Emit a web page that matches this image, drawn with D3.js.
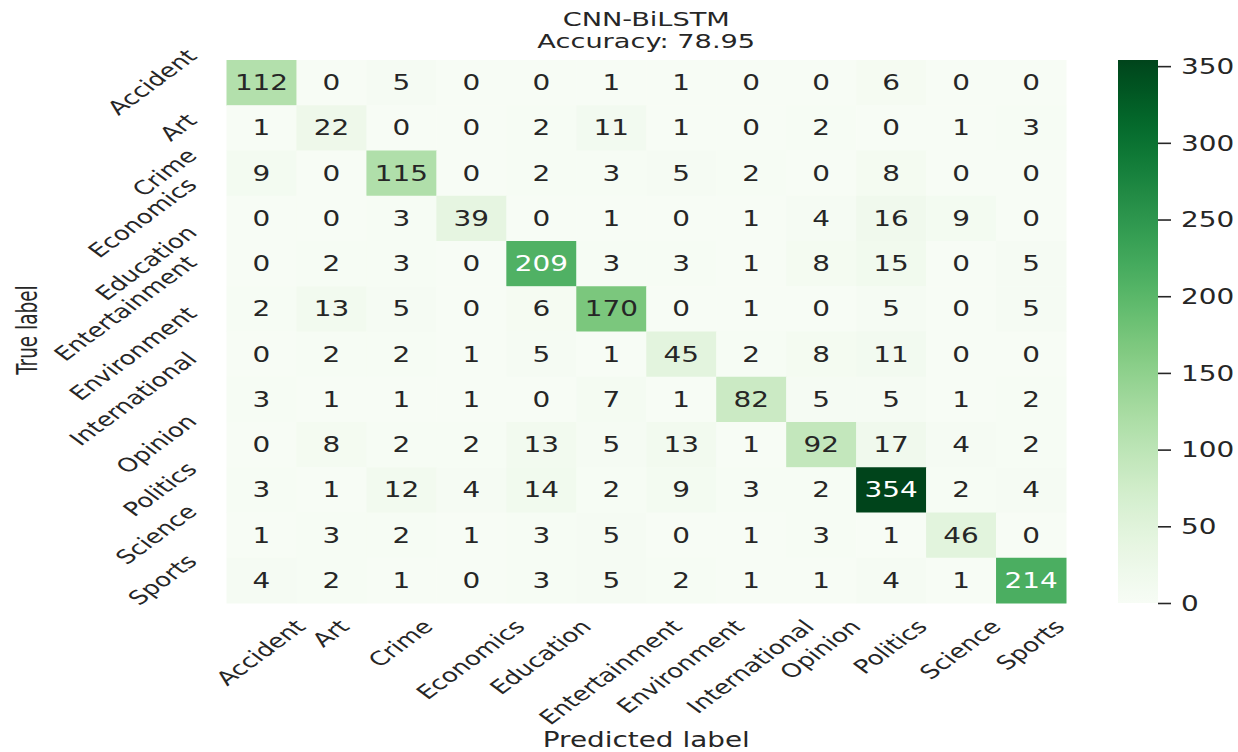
<!DOCTYPE html>
<html>
<head>
<meta charset="utf-8">
<script src="https://cdn.jsdelivr.net/npm/d3@7"></script>
<style>
body { margin: 0; background: white; }
text { font-family: "DejaVu Sans", sans-serif; fill: #262626; }
</style>
</head>
<body>
<svg id="chart"></svg>
<script>
var width = 1238, height = 752

// confusion matrix, rows = true label, cols = predicted label
var labels = ["Accident", "Art", "Crime", "Economics", "Education", "Entertainment",
    "Environment", "International", "Opinion", "Politics", "Science", "Sports"]
var counts = [
    [112, 0, 5, 0, 0, 1, 1, 0, 0, 6, 0, 0],
    [1, 22, 0, 0, 2, 11, 1, 0, 2, 0, 1, 3],
    [9, 0, 115, 0, 2, 3, 5, 2, 0, 8, 0, 0],
    [0, 0, 3, 39, 0, 1, 0, 1, 4, 16, 9, 0],
    [0, 2, 3, 0, 209, 3, 3, 1, 8, 15, 0, 5],
    [2, 13, 5, 0, 6, 170, 0, 1, 0, 5, 0, 5],
    [0, 2, 2, 1, 5, 1, 45, 2, 8, 11, 0, 0],
    [3, 1, 1, 1, 0, 7, 1, 82, 5, 5, 1, 2],
    [0, 8, 2, 2, 13, 5, 13, 1, 92, 17, 4, 2],
    [3, 1, 12, 4, 14, 2, 9, 3, 2, 354, 2, 4],
    [1, 3, 2, 1, 3, 5, 0, 1, 3, 1, 46, 0],
    [4, 2, 1, 0, 3, 5, 2, 1, 1, 4, 1, 214]
]
var cbarTicks = [0, 50, 100, 150, 200, 250, 300, 350]
var titleLines = ["CNN-BiLSTM", "Accuracy: 78.95"]
var xTitle = "Predicted label", yTitle = "True label"

// the picture is stretched sideways, so all text gets the same squash
var sx = 1.36, fs = 20.5, tickFs = 19.2

var svg = d3.select("#chart")
    .attr("width", width)
    .attr("height", height)

// note: "top" is a read-only global in browsers, so use other names
var hmLeft = 226.5, hmRight = 1066, hmTop = 60, hmBottom = 603

var x = d3.scaleBand().domain(d3.range(labels.length)).range([hmLeft, hmRight])
var y = d3.scaleBand().domain(d3.range(labels.length)).range([hmTop, hmBottom])
var vmax = d3.max(counts, function(r) { return d3.max(r) })
var color = d3.scaleSequential(d3.interpolateGreens).domain([0, vmax])

function luminance(c) {
    var rgb = d3.rgb(c)
    var ch = [rgb.r, rgb.g, rgb.b].map(function(v) {
        v = v / 255
        return v <= 0.03928 ? v / 12.92 : Math.pow((v + 0.055) / 1.055, 2.4)
    })
    return 0.2126 * ch[0] + 0.7152 * ch[1] + 0.0722 * ch[2]
}

var cells = []
counts.forEach(function(row, i) {
    row.forEach(function(v, j) { cells.push({r: i, c: j, v: v}) })
})

var g = svg.append("g")

g.selectAll("rect.cell")
    .data(cells)
    .enter()
    .append("rect")
        .attr("class", "cell")
        .attr("x", function(d) { return x(d.c) })
        .attr("y", function(d) { return y(d.r) })
        .attr("width", x.bandwidth() + 0.5)
        .attr("height", y.bandwidth() + 0.5)
        .attr("fill", function(d) { return color(d.v) })

g.selectAll("text.annot")
    .data(cells)
    .enter()
    .append("text")
        .attr("class", "annot")
        .attr("transform", function(d) {
            return "translate(" + (x(d.c) + x.bandwidth() / 2) + "," + (y(d.r) + y.bandwidth() / 2) + ") scale(" + sx + ",1)"
        })
        .attr("text-anchor", "middle")
        .attr("dy", "0.36em")
        .style("font-size", fs + "px")
        .style("fill", function(d) { return luminance(color(d.v)) > 0.408 ? "#262626" : "#ffffff" })
        .text(function(d) { return d.v })

// rotated tick labels, placed by their bounding box like matplotlib does
var xTop = 617, yRight = 202
labels.forEach(function(lab, i) {
    var t = g.append("text")
        .attr("text-anchor", "middle")
        .attr("dy", "0.3em")
        .style("font-size", tickFs + "px")
        .text(lab)
    var L = t.node().getComputedTextLength()
    var H = 0.7071 * (L + tickFs)
    t.attr("transform", "translate(" + (x(i) + x.bandwidth() / 2) + "," + (xTop + H / 2) + ") scale(" + sx + ",1) rotate(-45)")

    var t2 = g.append("text")
        .attr("text-anchor", "middle")
        .attr("dy", "0.3em")
        .style("font-size", tickFs + "px")
        .text(lab)
    t2.attr("transform", "translate(" + (yRight - sx * H / 2) + "," + (y(i) + y.bandwidth() / 2) + ") scale(" + sx + ",1) rotate(-45)")
})

// titles
svg.selectAll("text.title")
    .data(titleLines)
    .enter()
    .append("text")
        .attr("class", "title")
        .attr("transform", function(d, i) { return "translate(" + ((hmLeft + hmRight) / 2) + "," + (26 + i * 22) + ") scale(" + sx + ",1)" })
        .attr("text-anchor", "middle")
        .style("font-size", "20px")
        .text(function(d) { return d })

svg.append("text")
    .attr("transform", "translate(" + ((hmLeft + hmRight) / 2) + ",747) scale(" + sx + ",1)")
    .attr("text-anchor", "middle")
    .style("font-size", fs + "px")
    .text(xTitle)

svg.append("text")
    .attr("transform", "translate(27,330) scale(" + sx + ",1) rotate(-90)")
    .attr("text-anchor", "middle")
    .attr("dy", "0.36em")
    .style("font-family", "'DejaVu Sans Condensed', 'DejaVu Sans', sans-serif")
    .style("font-size", fs + "px")
    .text(yTitle)

// colorbar
var cbx = 1118, cbw = 40
var yc = d3.scaleLinear().domain([0, vmax]).range([hmBottom, hmTop])

var grad = svg.append("defs").append("linearGradient")
    .attr("id", "cbar")
    .attr("x1", 0).attr("y1", 1).attr("x2", 0).attr("y2", 0)
grad.selectAll("stop")
    .data(d3.range(0, 1.0001, 0.02))
    .enter()
    .append("stop")
        .attr("offset", function(d) { return d })
        .attr("stop-color", function(d) { return color(d * vmax) })

svg.append("rect")
    .attr("x", cbx)
    .attr("y", hmTop)
    .attr("width", cbw)
    .attr("height", hmBottom - hmTop)
    .attr("fill", "url(#cbar)")

var cax = svg.append("g")
    .attr("transform", "translate(" + (cbx + cbw) + ",0)")
    .call(d3.axisRight(yc).tickValues(cbarTicks).tickSize(13).tickSizeOuter(0))
cax.select(".domain").remove()
cax.selectAll(".tick line").attr("stroke", "#262626").attr("stroke-width", 1.6)
cax.selectAll(".tick text")
    .attr("x", null)
    .attr("dy", "0.36em")
    .attr("transform", "translate(23,0) scale(" + sx + ",1)")
    .attr("fill", "#262626")
    .style("font-family", "'DejaVu Sans', sans-serif")
    .style("font-size", fs + "px")
</script>
</body>
</html>
